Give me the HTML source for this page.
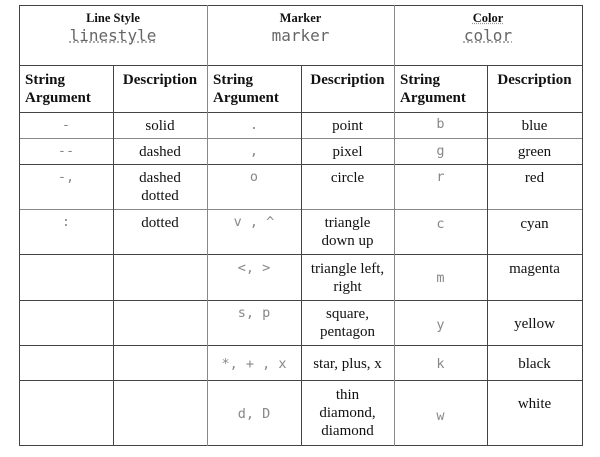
<!DOCTYPE html>
<html><head><meta charset="utf-8"><style>
body{margin:0;width:600px;height:457px;background:#fff;position:relative;overflow:hidden;font-family:"Liberation Serif",serif;color:#111}
.h{position:absolute;background:#444;height:1px}
.v{position:absolute;background:#444;width:1px}
.c{position:absolute;text-align:center;font-size:15px;line-height:18px}
.m{font-family:"DejaVu Sans Mono","Liberation Mono",monospace;color:#888;font-size:13.5px;margin-top:2px}
.b{font-weight:bold;font-size:15px;text-align:left;line-height:18px}
.t{font-weight:bold;font-size:12.5px;line-height:16px}
.mh{font-family:"DejaVu Sans Mono","Liberation Mono",monospace;color:#666;font-size:16px;line-height:20px}
.u{text-decoration:underline dotted #999}
</style></head><body>
<div class="h" style="left:19px;width:564px;top:5px"></div>
<div class="h" style="left:19px;width:564px;top:65px"></div>
<div class="h" style="left:19px;width:564px;top:112px"></div>
<div class="h" style="left:19px;width:564px;top:138px;background:#888"></div>
<div class="h" style="left:19px;width:564px;top:164px"></div>
<div class="h" style="left:19px;width:564px;top:209px;background:#888"></div>
<div class="h" style="left:19px;width:564px;top:254px"></div>
<div class="h" style="left:19px;width:564px;top:300px"></div>
<div class="h" style="left:19px;width:564px;top:345px"></div>
<div class="h" style="left:19px;width:564px;top:380px"></div>
<div class="h" style="left:19px;width:564px;top:445px"></div>
<div class="v" style="left:19px;top:5px;height:441px"></div>
<div class="v" style="left:113px;top:65px;height:381px"></div>
<div class="v" style="left:207px;top:5px;height:441px;background:#888"></div>
<div class="v" style="left:301px;top:65px;height:381px"></div>
<div class="v" style="left:394px;top:5px;height:441px;background:#888"></div>
<div class="v" style="left:487px;top:65px;height:381px"></div>
<div class="v" style="left:582px;top:5px;height:441px"></div>

<div class="c" style="left:19px;width:188px;top:10px"><div class="t">Line Style</div><div class="mh"><span class="u">linestyle</span></div></div>
<div class="c" style="left:207px;width:187px;top:10px"><div class="t">Marker</div><div class="mh">marker</div></div>
<div class="c" style="left:394px;width:188px;top:10px"><div class="t"><span class="u">Color</span></div><div class="mh"><span class="u">color</span></div></div>

<div class="c b" style="left:25px;top:71px">String<br>Argument</div>
<div class="c b" style="left:113px;width:94px;top:71px;text-align:center">Description</div>
<div class="c b" style="left:213px;top:71px">String<br>Argument</div>
<div class="c b" style="left:301px;width:93px;top:71px;text-align:center">Description</div>
<div class="c b" style="left:400px;top:71px">String<br>Argument</div>
<div class="c b" style="left:487px;width:95px;top:71px;text-align:center">Description</div>

<div class="c m" style="left:19px;width:94px;top:114px">-</div>
<div class="c" style="left:113px;width:94px;top:117px">solid</div>
<div class="c m" style="left:19px;width:94px;top:140px">--</div>
<div class="c" style="left:113px;width:94px;top:143px">dashed</div>
<div class="c m" style="left:19px;width:94px;top:166px">-,</div>
<div class="c" style="left:113px;width:94px;top:169px">dashed<br>dotted</div>
<div class="c m" style="left:19px;width:94px;top:211px">:</div>
<div class="c" style="left:113px;width:94px;top:214px">dotted</div>

<div class="c m" style="left:207px;width:94px;top:114px">.</div>
<div class="c" style="left:301px;width:93px;top:117px">point</div>
<div class="c m" style="left:207px;width:94px;top:140px">,</div>
<div class="c" style="left:301px;width:93px;top:143px">pixel</div>
<div class="c m" style="left:207px;width:94px;top:166px">o</div>
<div class="c" style="left:301px;width:93px;top:169px">circle</div>
<div class="c m" style="left:207px;width:94px;top:211px">v , ^</div>
<div class="c" style="left:301px;width:93px;top:214px">triangle<br>down up</div>
<div class="c m" style="left:207px;width:94px;top:257px">&lt;, &gt;</div>
<div class="c" style="left:301px;width:93px;top:260px">triangle left,<br>right</div>
<div class="c m" style="left:207px;width:94px;top:302px">s, p</div>
<div class="c" style="left:301px;width:93px;top:305px">square,<br>pentagon</div>
<div class="c m" style="left:207px;width:94px;top:353px">*, + , x</div>
<div class="c" style="left:301px;width:93px;top:355px">star, plus, x</div>
<div class="c m" style="left:207px;width:94px;top:403px">d, D</div>
<div class="c" style="left:301px;width:93px;top:386px">thin<br>diamond,<br>diamond</div>

<div class="c m" style="left:394px;width:93px;top:113px">b</div>
<div class="c" style="left:487px;width:95px;top:117px">blue</div>
<div class="c m" style="left:394px;width:93px;top:140px">g</div>
<div class="c" style="left:487px;width:95px;top:143px">green</div>
<div class="c m" style="left:394px;width:93px;top:166px">r</div>
<div class="c" style="left:487px;width:95px;top:169px">red</div>
<div class="c m" style="left:394px;width:93px;top:213px">c</div>
<div class="c" style="left:487px;width:95px;top:215px">cyan</div>
<div class="c m" style="left:394px;width:93px;top:267px">m</div>
<div class="c" style="left:487px;width:95px;top:260px">magenta</div>
<div class="c m" style="left:394px;width:93px;top:314px">y</div>
<div class="c" style="left:487px;width:95px;top:315px">yellow</div>
<div class="c m" style="left:394px;width:93px;top:353px">k</div>
<div class="c" style="left:487px;width:95px;top:355px">black</div>
<div class="c m" style="left:394px;width:93px;top:405px">w</div>
<div class="c" style="left:487px;width:95px;top:395px">white</div>
</body></html>
